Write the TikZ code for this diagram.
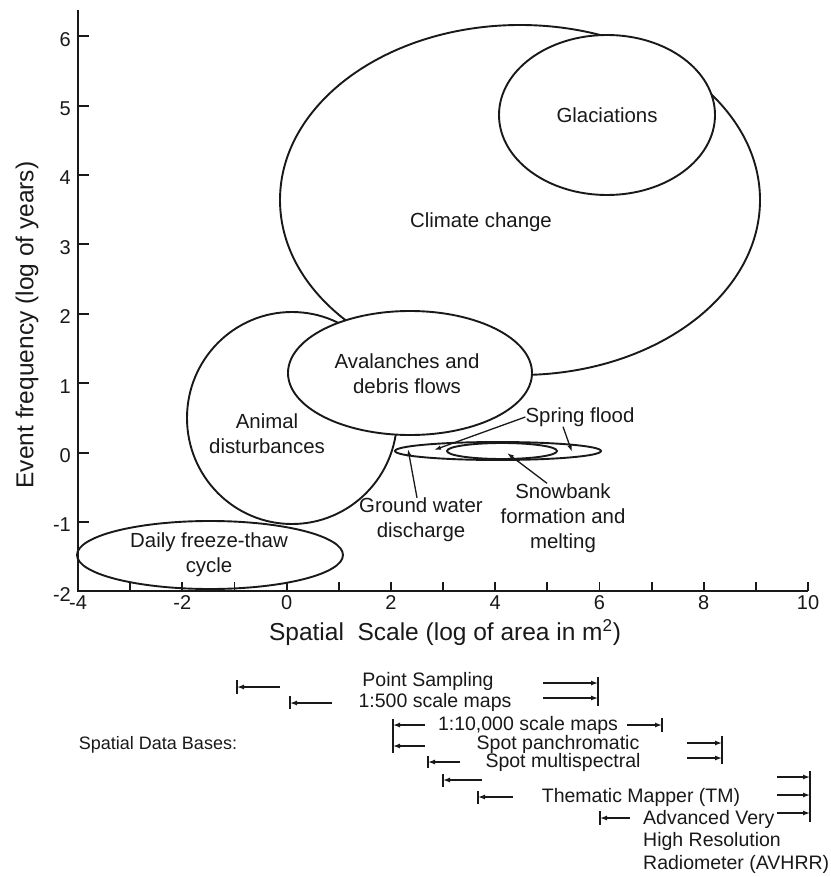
\documentclass[tikz,border=0pt]{standalone}
\usepackage{fontspec}
\setmainfont{Liberation Sans}
\usetikzlibrary{arrows.meta,shapes.geometric}
\begin{document}
\begin{tikzpicture}[x=1pt,y=-1pt,
  blob/.style={draw=black!90, line width=1.9pt, ellipse, inner sep=0pt, outer sep=0pt},
  lab/.style={font=\fontsize{20.4}{25}\selectfont, align=center, inner sep=0pt, text=black!90},
  axlab/.style={font=\fontsize{24.5}{28}\selectfont, inner sep=0pt, text=black!90},
  ticklab/.style={font=\fontsize{20}{24}\selectfont, inner sep=0pt, text=black!90},
  dblab/.style={font=\fontsize{19.5}{22.5}\selectfont, inner sep=0pt, text=black!90},
  ptr/.style={draw=black!90, line width=1.3pt, -{Latex[length=7pt,width=4.5pt]}},
  dbarrow/.style={draw=black!90, line width=1.3pt, -{Latex[length=7pt,width=5pt]}},
  dbbar/.style={draw=black!90, line width=1.9pt},
  axisline/.style={draw=black!90, line width=2.2pt},
  tickline/.style={draw=black!90, line width=1.9pt}
]
\useasboundingbox (0,0) rectangle (830,877);
\fill[white] (0,0) rectangle (830,877);

% event ellipses
\node[blob, fill=white, minimum width=480pt, minimum height=350pt] (climate) at (520,200) {};
\node[blob, fill=white, minimum width=216pt, minimum height=160pt] (glac) at (607,115) {};
\node[blob, minimum width=210pt, minimum height=212pt] (animal) at (292,418) {};
\node[blob, minimum width=266pt, minimum height=68pt] (daily) at (210,555) {};
\node[blob, fill=white, minimum width=244pt, minimum height=124pt] (aval) at (410,373) {};
\node[blob, minimum width=206pt, minimum height=18pt] (spring) at (498,451) {};
\node[blob, minimum width=110pt, minimum height=16pt] (snow) at (502,451) {};

% labels
\node[lab] (tclimate) at (481,222) {Climate change};
\node[lab] (tglac) at (607,115) {Glaciations};
\node[lab] (taval) at (407,374) {Avalanches and\\debris flows};
\node[lab] (tanimal) at (267,434) {Animal\\disturbances};
\node[lab] (tdaily) at (209,555) {Daily freeze-thaw\\cycle};
\node[lab] (tspring) at (580,417) {Spring flood};
\node[lab] (tground) at (421,520) {Ground water\\discharge};
\node[lab] (tsnow) at (563,518) {Snowbank\\formation and\\melting};

% pointers
\coordinate (sfL) at (434,450);
\coordinate (sfR) at (572,452);
\coordinate (sbT) at (507,453);
\coordinate (gwT) at (408,449);
\draw[ptr] (tspring.west) -- (sfL);
\draw[ptr] ([xshift=-17pt]tspring.south) -- (sfR);
\draw[ptr] ([xshift=-16pt]tsnow.north) -- (sbT);
\draw[ptr] ([xshift=-4pt]tground.north) -- (gwT);

% axes
\coordinate (ytop) at (78,10);
\coordinate (orig) at (78,591);
\coordinate (xend) at (808,591);
\draw[axisline] (ytop) -- (orig) -- (xend);
\foreach \k in {-1,...,6} \draw[tickline] (78,{452.6-69.4*\k}) -- (89,{452.6-69.4*\k});
\foreach \k in {-2,...,6} \node[ticklab, anchor=east] at (71,{455.6-69.4*\k}) {\k};
\foreach \k in {-3,...,10} \draw[tickline] ({286.6+52.14*\k},591) -- ({286.6+52.14*\k},582);
\foreach \k in {-4,-2,...,10} \node[ticklab] at ({286.6+52.14*\k},603) {\k};
\node[axlab, rotate=90] (ytitle) at (27,325) {Event frequency (log of years)};
\node[axlab] (xtitle) at (445,633) {Spatial\ \ Scale (log of area in m\textsuperscript{2})};

% spatial data bases
\node[dblab, font=\fontsize{18}{22}\selectfont] (sdb) at (158,745) {Spatial Data Bases:};
\node[dblab] (ps) at (428,681) {Point Sampling};
\node[dblab] (m500) at (435,702) {1:500 scale maps};
\node[dblab] (m10k) at (528,725) {1:10,000 scale maps};
\node[dblab] (span) at (558,744) {Spot panchromatic};
\node[dblab] (smul) at (563,762) {Spot multispectral};
\node[dblab] (tm) at (641,797) {Thematic Mapper (TM)};
\node[dblab, align=left, anchor=north west] (avhrr) at (643,810) {Advanced Very\\High Resolution\\Radiometer (AVHRR)};

\foreach \x/\a/\b [count=\i] in {237/680/694, 290/696/709, 393/719/753, 428/756/768, 443/774/787, 478/791/804, 600/811/825, 598/677/706, 662/718/732, 722/736/764, 810/771/822}{
  \coordinate (bt\i) at (\x,\a); \coordinate (bb\i) at (\x,\b);
  \draw[dbbar] (bt\i) -- (bb\i);
}
\foreach \s/\t/\y [count=\i] in {280/237/687, 332/290/703, 425/393/725, 425/393/746, 460/428/762, 482/443/780, 513/478/797, 630/600/818, 543/598/683, 543/598/698, 627/662/725, 687/722/743, 687/722/758, 777/810/777, 777/810/795, 777/810/813}{
  \coordinate (as\i) at (\s,\y); \coordinate (at\i) at (\t,\y);
  \draw[dbarrow] (as\i) -- (at\i);
}
\end{tikzpicture}
\end{document}
